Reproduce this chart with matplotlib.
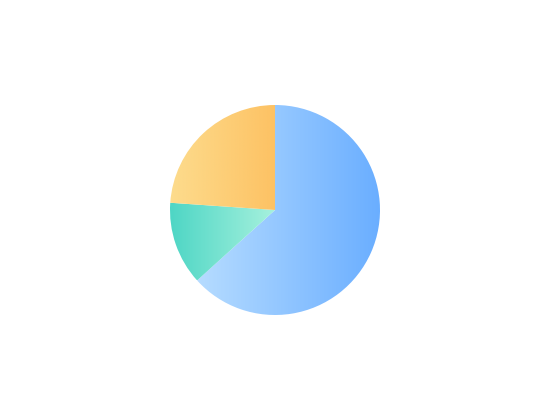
import matplotlib
matplotlib.use("Agg")
import matplotlib.pyplot as plt
import numpy as np
from matplotlib.colors import LinearSegmentedColormap

labels = ["A", "B", "C"]
values = [63.3, 12.8, 23.9]
grad_left = ["#b6dcff", "#4ed6c5", "#fddc8d"]
grad_right = ["#6aaeff", "#a6f1dd", "#fdc264"]

fig = plt.figure(figsize=(5.5, 4.2), dpi=100)
cx, cy, r = 275, 210, 105
ax = fig.add_axes([(cx - r) / 550, (420 - cy - r) / 420, 2 * r / 550, 2 * r / 420])
wedges, _ = ax.pie(values, startangle=90, counterclock=False, radius=1,
                   wedgeprops=dict(linewidth=0, edgecolor="none"))
ax.set_xlim(-1, 1)
ax.set_ylim(-1, 1)
ax.set_aspect("equal")
ax.axis("off")

grad = np.linspace(0, 1, 256).reshape(1, -1)
for w, cl, cr in zip(wedges, grad_left, grad_right):
    ext = w.get_path().get_extents()
    cmap = LinearSegmentedColormap.from_list("g", [cl, cr])
    im = ax.imshow(grad, cmap=cmap, aspect="auto",
                   extent=[ext.x0, ext.x1, ext.y0, ext.y1], zorder=2, interpolation="bilinear")
    im.set_clip_path(w)
    w.set_facecolor("none")
    w.set_clip_on(False)
ax.set_xlim(-1, 1)
ax.set_ylim(-1, 1)

fig.savefig("out.png", dpi=100)
